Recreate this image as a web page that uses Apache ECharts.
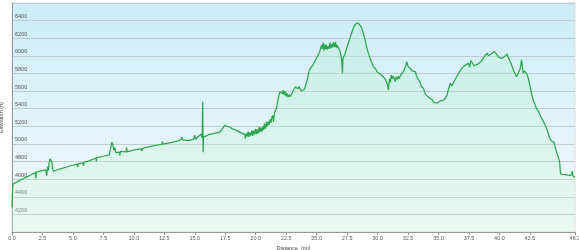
<!DOCTYPE html>
<html>
<head>
<meta charset="utf-8">
<script src="https://cdn.jsdelivr.net/npm/echarts@6/dist/echarts.min.js"></script>
<style>html,body{margin:0;padding:0;background:#fff;}#c{width:579px;height:250px;}</style>
</head>
<body>
<div id="c"></div>
<script>
const distance = [0,0.03,0.08,0.3,0.58,0.9,1.13,1.5,1.9,1.95,2.0,2.4,2.77,2.85,2.92,2.98,3.05,3.12,3.2,3.27,3.32,3.4,3.46,3.9,4.42,4.9,5.35,5.38,5.42,5.84,5.87,5.9,6.4,6.89,6.92,6.95,7.5,7.98,8.1,8.2,8.28,8.35,8.45,8.5,8.6,8.8,8.85,8.9,9.36,9.4,9.45,9.8,10.18,10.6,10.65,10.7,11.14,11.5,11.83,12.3,12.35,12.4,12.8,13.2,13.6,13.88,13.92,14.0,14.3,14.57,14.9,15.0,15.05,15.25,15.4,15.5,15.6,15.65,15.68,15.72,16.0,16.2,16.6,17.04,17.2,17.45,17.6,17.86,18.1,18.41,18.8,19.1,19.15,19.22,19.3,19.38,19.45,19.52,19.6,19.67,19.75,19.82,19.9,19.98,20.05,20.12,20.2,20.28,20.35,20.42,20.5,20.58,20.65,20.72,20.8,20.88,20.95,21.02,21.1,21.18,21.25,21.32,21.4,21.45,21.55,21.7,21.85,21.98,22.1,22.18,22.25,22.32,22.4,22.48,22.55,22.66,22.75,22.85,22.94,23.1,23.25,23.35,23.45,23.55,23.62,23.75,23.9,24.0,24.1,24.25,24.4,24.55,24.7,24.9,25.13,25.3,25.4,25.45,25.54,25.58,25.65,25.72,25.8,25.87,25.95,26.02,26.1,26.17,26.25,26.32,26.4,26.47,26.55,26.62,26.7,26.8,26.95,27.05,27.12,27.16,27.3,27.45,27.6,27.75,27.87,28.05,28.23,28.42,28.55,28.7,28.85,28.97,29.1,29.24,29.45,29.65,29.85,29.95,30.07,30.15,30.25,30.35,30.48,30.6,30.7,30.8,30.89,30.93,31.0,31.05,31.12,31.2,31.3,31.44,31.52,31.6,31.7,31.78,31.85,32.0,32.12,32.3,32.4,32.5,32.67,32.85,33.09,33.2,33.36,33.5,33.6,33.77,33.85,33.99,34.15,34.32,34.5,34.6,34.73,34.9,35.0,35.1,35.2,35.42,35.55,35.7,35.85,35.97,36.1,36.24,36.4,36.55,36.65,36.85,37.06,37.15,37.25,37.35,37.47,37.55,37.65,37.75,37.9,38.02,38.15,38.3,38.45,38.57,38.65,38.75,38.85,38.99,39.1,39.26,39.4,39.5,39.59,39.75,39.94,40.1,40.2,40.35,40.5,40.63,40.7,40.77,40.9,41.04,41.2,41.4,41.5,41.59,41.7,41.81,41.88,41.95,42.05,42.14,42.25,42.33,42.45,42.55,42.65,42.77,42.88,43.05,43.12,43.24,43.35,43.45,43.55,43.65,43.8,43.92,44.05,44.14,44.3,44.47,44.6,44.74,44.85,44.94,44.98,45.02,45.2,45.43,45.65,45.84,45.9,45.98,46.02,46.1,46.2];
const elevation = [4280,4420,4545,4560,4583,4605,4620,4645,4675,4610,4680,4695,4705,4640,4740,4700,4790,4830,4835,4800,4720,4690,4695,4715,4735,4755,4770,4735,4775,4785,4750,4790,4810,4840,4800,4845,4860,4876,4890,5020,4990,4930,4960,4900,4915,4906,4870,4915,4910,4960,4910,4925,4935,4945,4920,4950,4963,4975,4985,4995,5030,4998,5010,5020,5035,5050,5080,5045,5040,5040,5055,5100,5050,5078,5060,5110,5070,5478,4906,5080,5095,5108,5120,5135,5160,5211,5195,5192,5170,5154,5125,5108,5060,5120,5085,5140,5080,5130,5095,5155,5090,5150,5105,5170,5110,5165,5116,5190,5135,5185,5140,5200,5160,5230,5170,5250,5200,5255,5215,5280,5240,5300,5325,5250,5360,5402,5520,5592,5600,5570,5611,5555,5600,5540,5575,5530,5560,5535,5554,5610,5650,5668,5625,5650,5642,5600,5592,5620,5611,5740,5840,5870,5897,5950,6011,6070,6120,6080,6150,6060,6130,6075,6125,6070,6110,6080,6150,6085,6135,6095,6155,6100,6160,6090,6120,6106,6040,5954,5802,5980,6010,6080,6145,6210,6259,6330,6366,6373,6350,6317,6250,6183,6100,6031,5950,5878,5850,5820,5830,5800,5810,5780,5790,5740,5760,5680,5611,5690,5740,5700,5783,5740,5770,5706,5760,5730,5770,5740,5770,5790,5820,5880,5935,5880,5859,5830,5820,5770,5726,5700,5650,5631,5590,5554,5535,5516,5500,5470,5490,5465,5459,5485,5470,5497,5520,5554,5640,5688,5660,5668,5740,5780,5802,5850,5878,5860,5900,5880,5916,5870,5950,5935,5890,5871,5900,5897,5930,5954,5940,5990,5970,6031,6000,6011,6030,6010,6049,6020,5985,5990,5970,5985,6000,6023,5990,5974,5930,5878,5820,5763,5790,5802,5850,5954,5880,5802,5830,5820,5790,5763,5700,5631,5560,5497,5459,5400,5380,5363,5320,5300,5270,5249,5200,5154,5100,5059,5030,5020,4950,4888,4840,4792,4720,4659,4655,4651,4645,4640,4650,4690,4640,4635,4620];
const xTicks = [0,2.5,5,7.5,10,12.5,15,17.5,20,22.5,25,27.5,30,32.5,35,37.5,40,42.5,46.2];
const yTicks = [4200,4400,4600,4800,5000,5200,5400,5600,5800,6000,6200,6400];

const points = distance.map((d, i) => [d, elevation[i]]);
const chart = echarts.init(document.getElementById('c'), null, {renderer: 'canvas'});
const font = 'Liberation Sans';
chart.setOption({
  animation: false,
  backgroundColor: '#ffffff',
  grid: {
    left: 12, right: 4, top: 3, bottom: 18,
    outerBoundsMode: 'none',
    containLabel: false,
    show: true,
    borderWidth: 1,
    borderColor: '#dddddd',
    backgroundColor: new echarts.graphic.LinearGradient(0, 0, 0, 1, [
      {offset: 0, color: '#cbecf8'},
      {offset: 1, color: '#f5fbfd'}
    ])
  },
  xAxis: {
    type: 'value',
    min: 0, max: 46.2,
    name: 'Distance  (mi)',
    nameLocation: 'middle',
    nameGap: 10,
    nameTextStyle: {fontFamily: font, fontSize: 5.5, color: '#444'},
    axisLine: {show: true, lineStyle: {color: '#999', width: 1}},
    axisTick: {show: true, length: 3, inside: false, customValues: xTicks, lineStyle: {color: '#999'}},
    axisLabel: {customValues: xTicks, margin: 3, fontFamily: font, fontSize: 5.5, color: '#555',
      formatter: v => Number(v).toFixed(1)},
    splitLine: {show: false}
  },
  yAxis: {
    type: 'value',
    min: 4000, max: 6600, interval: 200,
    name: 'Elevation (ft)',
    nameLocation: 'middle',
    nameGap: -2,
    nameTextStyle: {fontFamily: font, fontSize: 5.5, color: '#444'},
    axisLine: {show: true, lineStyle: {color: '#999', width: 1}},
    axisTick: {show: false},
    axisLabel: {customValues: yTicks, inside: true, margin: 3, align: 'left', verticalAlign: 'bottom',
      padding: [0, 0, 1, 0], fontFamily: font, fontSize: 5.5, color: '#555',
      formatter: v => String(v)},
    splitLine: {show: true, lineStyle: {color: '#bfcbd2', width: 1}}
  },
  series: [{
    type: 'line',
    data: points,
    showSymbol: false,
    symbol: 'none',
    lineStyle: {color: '#2ea64e', width: 1.25},
    areaStyle: {
      color: new echarts.graphic.LinearGradient(0, 0, 0, 1, [
        {offset: 0, color: 'rgba(170,235,185,0.35)'},
        {offset: 1, color: 'rgba(205,245,215,0.45)'}
      ])
    }
  }]
});
</script>
</body>
</html>
